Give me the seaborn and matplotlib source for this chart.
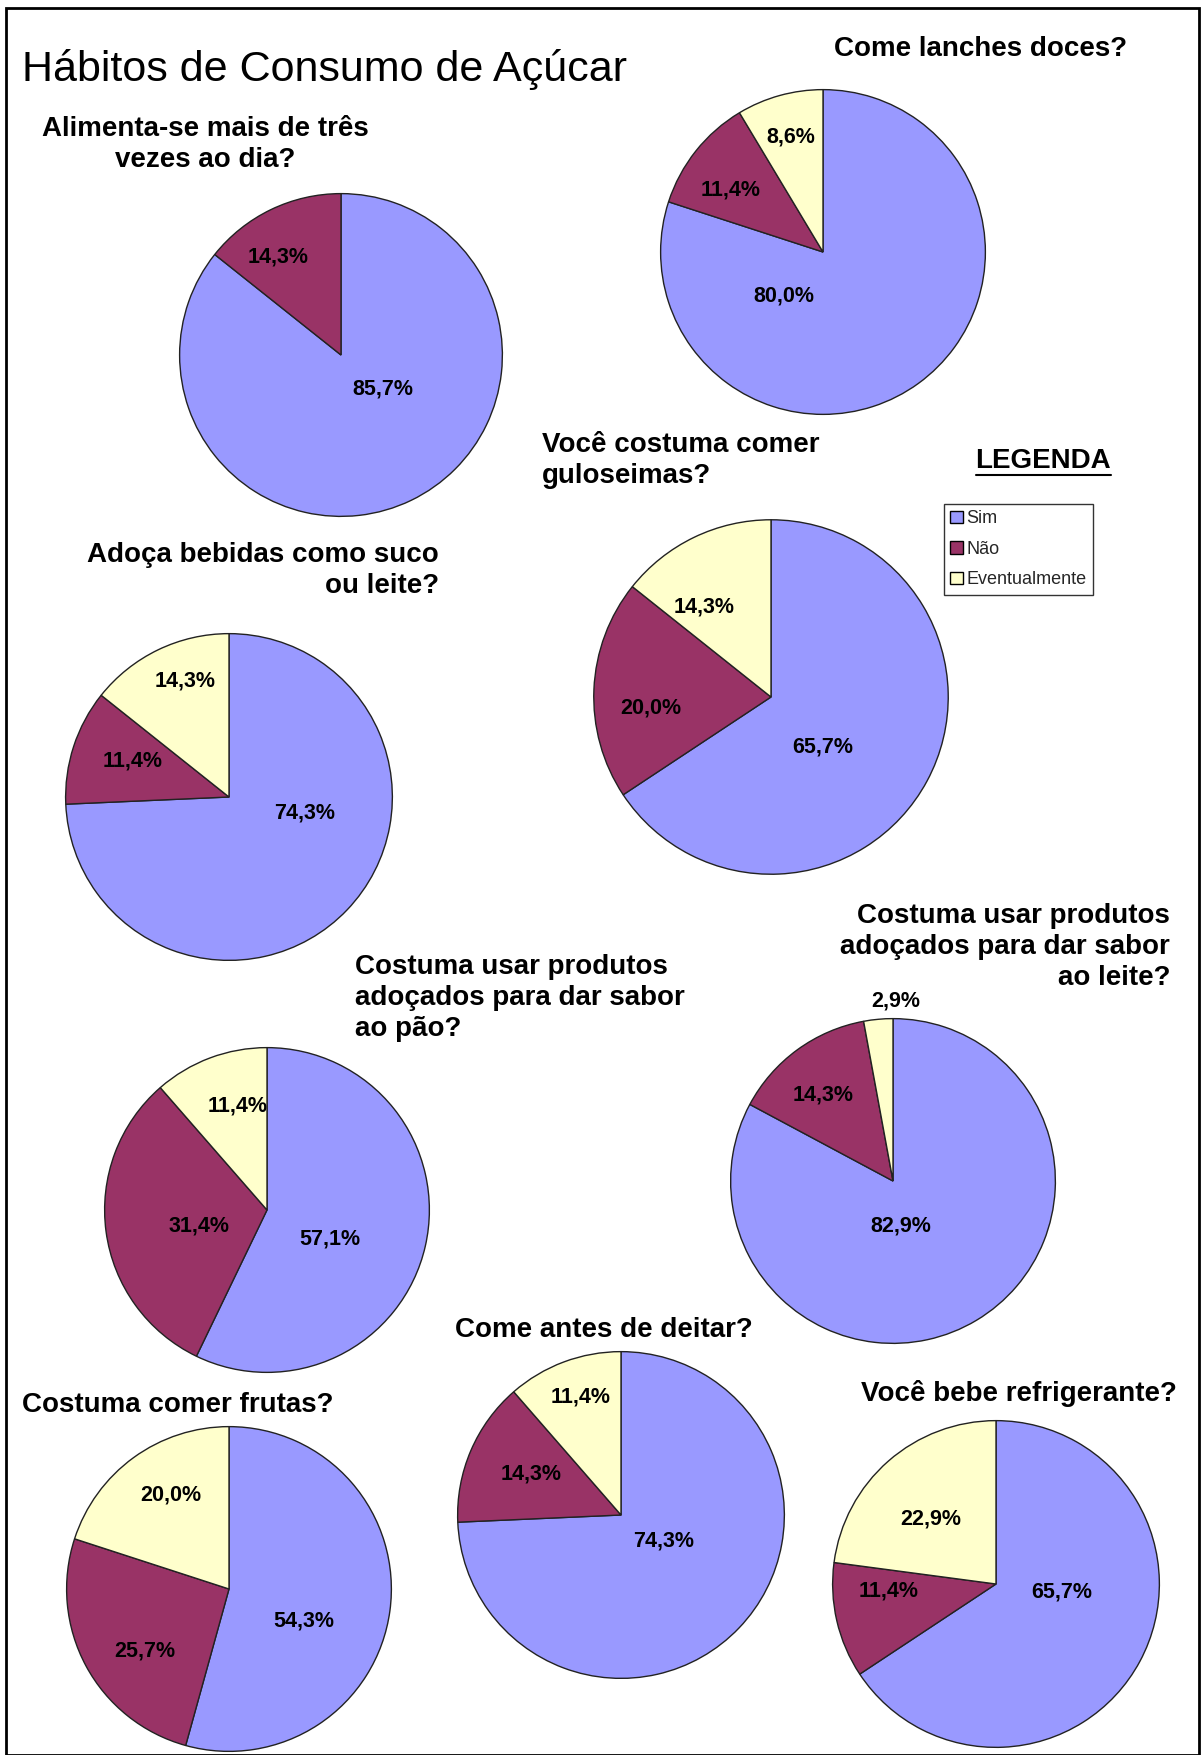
import matplotlib
matplotlib.use("Agg")
import matplotlib.pyplot as plt
import seaborn as sns
from matplotlib.patches import Rectangle, Patch

sns.set_theme(style="white")
plt.rcParams["font.family"] = ["Liberation Sans", "DejaVu Sans"]

# Data
categories = ["Sim", "Não", "Eventualmente"]
questions = [
    "Alimenta-se mais de três\nvezes ao dia?",
    "Come lanches doces?",
    "Você costuma comer\nguloseimas?",
    "Adoça bebidas como suco\nou leite?",
    "Costuma usar produtos\nadoçados para dar sabor\nao pão?",
    "Costuma usar produtos\nadoçados para dar sabor\nao leite?",
    "Costuma comer frutas?",
    "Come antes de deitar?",
    "Você bebe refrigerante?",
]
sim = [85.7, 80.0, 65.7, 74.3, 57.1, 82.9, 54.3, 74.3, 65.7]
nao = [14.3, 11.4, 20.0, 11.4, 31.4, 14.3, 25.7, 14.3, 11.4]
eventual = [0.0, 8.6, 14.3, 14.3, 11.4, 2.9, 20.0, 11.4, 22.9]

colors = sns.color_palette(["#9999FF", "#993366", "#FFFFCC"])

W, H = 1202, 1755
fig = plt.figure(figsize=(W / 100, H / 100), dpi=100)

# layout (pixels): pie center x, center y, radius
pie_pos = [
    (341, 355, 163), (823, 252, 164), (771, 697, 179),
    (229, 797, 165), (267, 1210, 164), (893, 1181, 164),
    (229, 1589, 164), (621, 1515, 165), (996, 1584, 165),
]
# label offsets in units of the radius (Sim, Não, Eventualmente)
label_off = [
    [(0.26, -0.21), (-0.39, 0.61), None],
    [(-0.24, -0.27), (-0.57, 0.38), (-0.20, 0.71)],
    [(0.29, -0.28), (-0.68, -0.06), (-0.38, 0.51)],
    [(0.46, -0.10), (-0.59, 0.22), (-0.27, 0.71)],
    [(0.39, -0.18), (-0.42, -0.10), (-0.18, 0.64)],
    [(0.05, -0.28), (-0.43, 0.53), (0.02, 1.11)],
    [(0.46, -0.20), (-0.52, -0.38), (-0.36, 0.58)],
    [(0.26, -0.16), (-0.55, 0.25), (-0.25, 0.72)],
    [(0.40, -0.05), (-0.66, -0.04), (-0.40, 0.40)],
]
# titles: x, y (pixels, center of first line), alignment
title_pos = [
    (205, 126, "center"), (981, 46, "center"), (542, 442, "left"),
    (439, 552, "right"), (355, 964, "left"), (1170, 913, "right"),
    (22, 1402, "left"), (604, 1327, "center"), (1019, 1390, "center"),
]

for i in range(len(questions)):
    cx, cy, r = pie_pos[i]
    ax = fig.add_axes([(cx - r) / W, (H - cy - r) / H, 2 * r / W, 2 * r / H])
    vals = [sim[i], nao[i], eventual[i]]
    keep = [k for k, v in enumerate(vals) if v > 0]
    ax.pie([vals[k] for k in keep], colors=[colors[k] for k in keep],
           startangle=90, counterclock=False,
           wedgeprops=dict(edgecolor="#222222", linewidth=1.0))
    ax.set_xlim(-1.01, 1.01)
    ax.set_ylim(-1.01, 1.01)
    ax.set_aspect("equal")
    ax.axis("off")
    for k in keep:
        dx, dy = label_off[i][k]
        ax.text(dx, dy, f"{vals[k]:.1f}%".replace(".", ","), ha="center",
                va="center", fontsize=15.5, fontweight="bold", color="black",
                clip_on=False)
    tx, ty, al = title_pos[i]
    fig.text(tx / W, 1 - (ty - 10) / H, questions[i], ha=al, va="top",
             fontsize=20, fontweight="bold", linespacing=1.25,
             multialignment=al, color="black")

# main title
fig.text(22 / W, 1 - 70 / H, "Hábitos de Consumo de Açúcar", ha="left",
         va="center", fontsize=31, color="black")

# legend
fig.text(1043 / W, 1 - 461 / H, "LEGENDA", ha="center", va="center",
         fontsize=20, fontweight="bold", color="black")
fig.add_artist(plt.Line2D([976 / W, 1111 / W], [1 - 475 / H, 1 - 475 / H],
                          color="black", linewidth=1.5))
handles = [Patch(facecolor=c, edgecolor="black", label=l)
           for c, l in zip(colors, categories)]
fig.legend(handles=handles, loc="upper left",
           bbox_to_anchor=(944 / W, 1 - 504 / H), frameon=True,
           fontsize=13, handlelength=0.7, handleheight=0.7,
           handletextpad=0.2, borderpad=0.35, labelspacing=0.75,
           borderaxespad=0, fancybox=False, edgecolor="black")

# page frame
fig.add_artist(Rectangle((6 / W, 0), (1199 - 6) / W, 1 - 8 / H,
                         transform=fig.transFigure, fill=False,
                         edgecolor="black", linewidth=2))

fig.savefig("out.png", dpi=100, facecolor="white")
